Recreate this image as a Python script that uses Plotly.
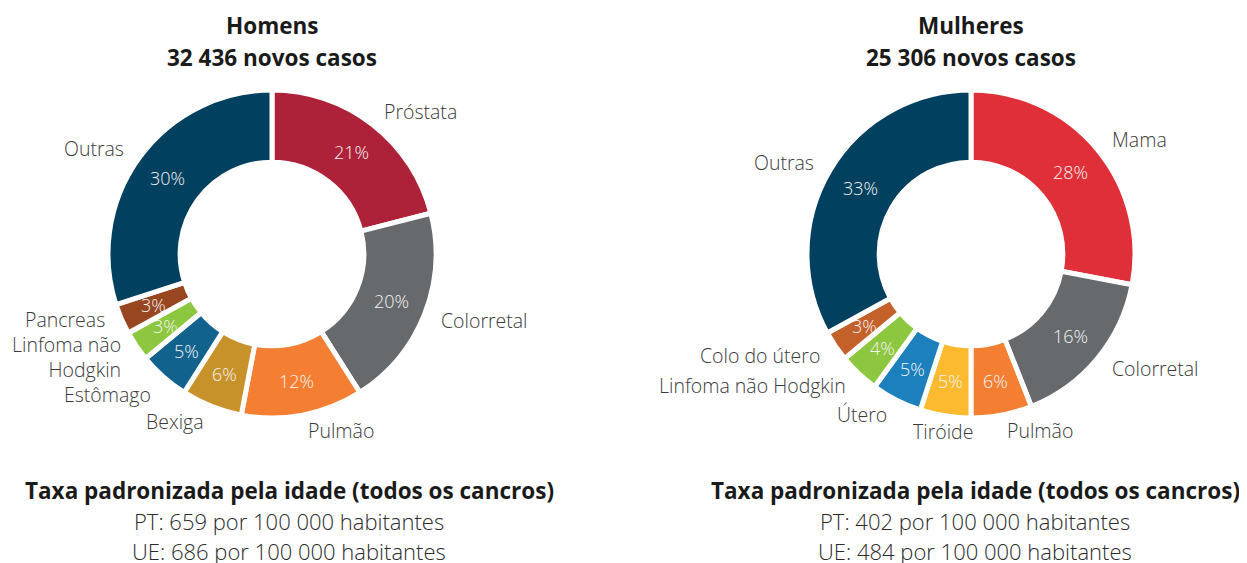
import math
import plotly.graph_objects as go

W, H = 1239, 555   # figure size; the page adds an 8 px body margin
OFF = 8

# ---- data ----
men_labels = ["Próstata", "Colorretal", "Pulmão", "Bexiga", "Estômago",
              "Linfoma não<br>Hodgkin", "Pancreas", "Outras"]
men_values = [21, 20, 12, 6, 5, 3, 3, 30]
men_colors = ["#AE2239", "#666A6D", "#F47F32", "#C8922B", "#12628E",
              "#8DC63F", "#97461F", "#02405F"]

women_labels = ["Mama", "Colorretal", "Pulmão", "Tiróide", "Útero",
                "Linfoma não Hodgkin", "Colo do útero", "Outras"]
women_values = [28, 16, 6, 5, 5, 4, 3, 33]
women_colors = ["#DF2F38", "#666A6D", "#F47F32", "#FBBA2F", "#1B80BC",
                "#8DC63F", "#C4602A", "#02405F"]

men_title = ["Homens", "32 436 novos casos"]
women_title = ["Mulheres", "25 306 novos casos"]
footer_head = "Taxa padronizada pela idade (todos os cancros)"
men_footer = ["PT: 659 por 100 000 habitantes", "UE: 686 por 100 000 habitantes"]
women_footer = ["PT: 402 por 100 000 habitantes", "UE: 484 por 100 000 habitantes"]

# ---- layout geometry (window pixels) ----
R = 164
HOLE = 0.56
FONT = "Open Sans"
LABEL_COLOR = "#3A3A3A"
LABEL_SIZE = 19.5
LINE_H = 25

fig = go.Figure()
annotations = []


def px2paper(x, y):
    return (x - OFF) / W, 1 - (y - OFF) / H


def add_donut(cx, cy, labels, values, colors, title, footer, footer_cx):
    x0, y1 = px2paper(cx - R, cy - R)
    x1, y0 = px2paper(cx + R, cy + R)
    fig.add_trace(go.Pie(
        labels=labels, values=values, sort=False, direction="clockwise",
        rotation=0, hole=HOLE, textinfo="none", hoverinfo="label+percent",
        marker=dict(colors=colors, line=dict(color="white", width=5)),
        domain=dict(x=[x0, x1], y=[y0, y1]), showlegend=False,
    ))
    total = sum(values)
    cum = 0
    r_mid = R * (1 + HOLE) / 2 + 1
    r_lab = 180
    outer = []
    for lab, v in zip(labels, values):
        ang = 2 * math.pi * (cum + v / 2) / total
        cum += v
        s, c = math.sin(ang), math.cos(ang)
        # percent label
        px, py = px2paper(cx + r_mid * s, cy - r_mid * c)
        annotations.append(dict(
            x=px, y=py, xref="paper", yref="paper", showarrow=False,
            text=f"{round(100 * v / total)}%", xanchor="center", yanchor="middle",
            font=dict(family=FONT, size=18, color="#F4F4F4", weight=300),
        ))
        if s > 0.05:
            xa, side = "left", 1
        elif s < -0.3:
            xa, side = "right", -1
        else:
            xa, side = "center", 0
        outer.append(dict(lab=lab, x=cx + r_lab * s, y=cy - r_lab * c,
                          xa=xa, side=side,
                          h=LINE_H * (lab.count("<br>") + 1)))
    # simple vertical de-overlap of labels on the same side
    for _ in range(50):
        for side in (1, -1):
            grp = sorted([o for o in outer if o["side"] == side], key=lambda o: o["y"])
            for a, b in zip(grp, grp[1:]):
                need = (a["h"] + b["h"]) / 2
                gap = b["y"] - a["y"]
                if gap < need:
                    d = (need - gap) / 2
                    a["y"] -= d
                    b["y"] += d
    for o in outer:
        lx, ly = px2paper(o["x"], o["y"])
        annotations.append(dict(
            x=lx, y=ly, xref="paper", yref="paper", showarrow=False,
            text=o["lab"], xanchor=o["xa"], yanchor="middle", align="right",
            font=dict(family=FONT, size=LABEL_SIZE, color=LABEL_COLOR, weight=300),
        ))
    # titles
    for i, t in enumerate(title):
        tx, ty = px2paper(cx, 25 + 33 * i)
        annotations.append(dict(
            x=tx, y=ty, xref="paper", yref="paper", showarrow=False,
            text=t, xanchor="center", yanchor="middle",
            font=dict(family=FONT, size=22.5, color="#1A1A1A", weight=700),
        ))
    fx, fy = px2paper(footer_cx, 490)
    annotations.append(dict(
        x=fx, y=fy, xref="paper", yref="paper", showarrow=False,
        text=footer_head, xanchor="center", yanchor="middle",
        font=dict(family=FONT, size=22.5, color="#1A1A1A", weight=700),
    ))
    for i, t in enumerate(footer):
        fx, fy = px2paper(footer_cx, 521 + 30 * i)
        annotations.append(dict(
            x=fx, y=fy, xref="paper", yref="paper", showarrow=False,
            text=t, xanchor="center", yanchor="middle",
            font=dict(family=FONT, size=22, color="#2A2A2A", weight=300),
        ))


add_donut(272, 254, men_labels, men_values, men_colors, men_title, men_footer, 289)
add_donut(971, 254, women_labels, women_values, women_colors, women_title, women_footer, 975)

fig.update_layout(
    width=W, height=H, margin=dict(l=0, r=0, t=0, b=0),
    paper_bgcolor="white", plot_bgcolor="white",
    annotations=annotations,
)
fig.write_html("out.html")
